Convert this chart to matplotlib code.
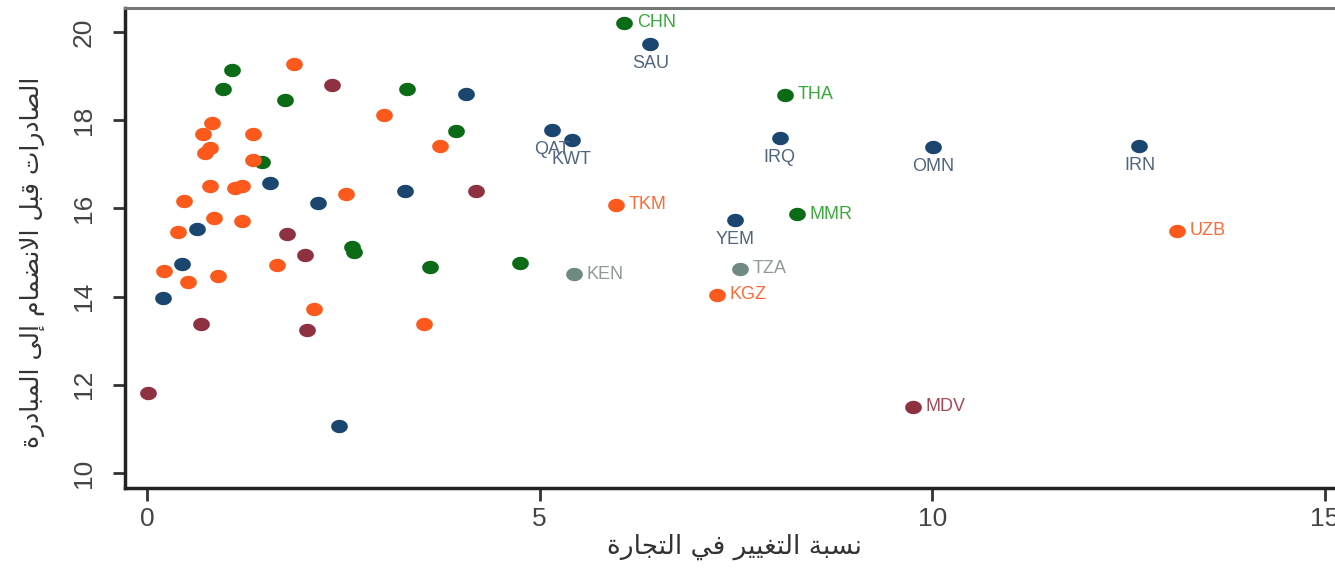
"""Scatter of pre-accession exports vs. trade change, with Arabic axis titles."""
import matplotlib
matplotlib.use("Agg")
import matplotlib.pyplot as plt
import numpy as np
from matplotlib.path import Path

# --- data ---------------------------------------------------------------
trade_change = [
    6.41, 5.16, 5.41, 8.06, 10.01, 12.64, 7.49,
    1.57, 2.18, 0.64, 0.45, 0.20, 2.45, 4.06, 3.29,
    6.08, 8.13, 8.28,
    1.08, 0.97, 1.76, 1.46, 3.31, 3.94, 2.61, 2.64, 3.61, 4.75,
    9.75,
    1.78, 2.01, 0.69, 2.04, 0.01, 2.36, 4.19,
    5.44, 7.55,
    5.97, 13.12, 7.26,
    1.87, 0.83, 0.71, 1.35, 0.80, 0.74, 1.35, 0.80, 1.12, 1.21, 0.47, 0.85,
    1.21, 0.39, 0.22, 0.52, 0.90, 1.66, 2.13, 3.02, 3.73, 2.54, 3.53,
]
pre_exports = [
    19.73, 17.78, 17.55, 17.60, 17.39, 17.41, 15.74,
    16.58, 16.12, 15.53, 14.74, 13.97, 11.07, 18.59, 16.40,
    20.20, 18.57, 15.87,
    19.14, 18.71, 18.46, 17.05, 18.71, 17.76, 15.12, 15.01, 14.67, 14.76,
    11.50,
    15.42, 14.94, 13.38, 13.24, 11.81, 18.80, 16.40,
    14.51, 14.63,
    16.08, 15.49, 14.04,
    19.27, 17.94, 17.69, 17.69, 17.37, 17.26, 17.10, 16.50, 16.46, 16.51, 16.17, 15.78,
    15.71, 15.46, 14.58, 14.33, 14.47, 14.72, 13.72, 18.12, 17.41, 16.33, 13.38,
]
group = (["navy"] * 15 + ["green"] * 13 + ["maroon"] * 8 + ["gray"] * 2
         + ["orange"] * 26)
iso = (["SAU", "QAT", "KWT", "IRQ", "OMN", "IRN", "YEM"] + [""] * 8
       + ["CHN", "THA", "MMR"] + [""] * 10
       + ["MDV"] + [""] * 7
       + ["KEN", "TZA"]
       + ["TKM", "UZB", "KGZ"] + [""] * 23)
label_below = {"SAU", "QAT", "KWT", "IRQ", "OMN", "IRN", "YEM"}

x_ticks = [0, 5, 10, 15]
y_ticks = [10, 12, 14, 16, 18, 20]
x_title = "نسبة التغيير في التجارة"
y_title = "الصادرات قبل الانضمام إلى المبادرة"

marker_colors = {"navy": "#1a4670", "green": "#0b6b16", "maroon": "#8e3140",
                 "gray": "#6f8a82", "orange": "#fb5a1c"}
text_colors = {"navy": "#4f6580", "green": "#3aaa3a", "maroon": "#a24a58",
               "gray": "#8e9a96", "orange": "#ff6a36"}
draw_order = ["green", "maroon", "navy", "gray", "orange"]


# --- minimal Arabic shaping (presentation forms + visual order) ----------
FORMS = {  # isolated, final, initial, medial
    "ا": ("\uFE8D", "\uFE8E", None, None),
    "إ": ("\uFE87", "\uFE88", None, None),
    "ب": ("\uFE8F", "\uFE90", "\uFE91", "\uFE92"),
    "ة": ("\uFE93", "\uFE94", None, None),
    "ت": ("\uFE95", "\uFE96", "\uFE97", "\uFE98"),
    "ج": ("\uFE9D", "\uFE9E", "\uFE9F", "\uFEA0"),
    "د": ("\uFEA9", "\uFEAA", None, None),
    "ر": ("\uFEAD", "\uFEAE", None, None),
    "س": ("\uFEB1", "\uFEB2", "\uFEB3", "\uFEB4"),
    "ص": ("\uFEB9", "\uFEBA", "\uFEBB", "\uFEBC"),
    "ض": ("\uFEBD", "\uFEBE", "\uFEBF", "\uFEC0"),
    "غ": ("\uFECD", "\uFECE", "\uFECF", "\uFED0"),
    "ف": ("\uFED1", "\uFED2", "\uFED3", "\uFED4"),
    "ق": ("\uFED5", "\uFED6", "\uFED7", "\uFED8"),
    "ل": ("\uFEDD", "\uFEDE", "\uFEDF", "\uFEE0"),
    "م": ("\uFEE1", "\uFEE2", "\uFEE3", "\uFEE4"),
    "ن": ("\uFEE5", "\uFEE6", "\uFEE7", "\uFEE8"),
    "ى": ("\uFEEF", "\uFEF0", None, None),
    "ي": ("\uFEF1", "\uFEF2", "\uFEF3", "\uFEF4"),
}
LAM_ALEF = {"ا": ("\uFEFB", "\uFEFC"), "إ": ("\uFEF9", "\uFEFA")}


def shape_arabic(text):
    out = []
    for word in text.split(" "):
        chars = list(word)
        glyphs = []
        i = 0
        prev_joins = False
        while i < len(chars):
            c = chars[i]
            if c == "ل" and i + 1 < len(chars) and chars[i + 1] in LAM_ALEF:
                iso_f, fin_f = LAM_ALEF[chars[i + 1]]
                glyphs.append(fin_f if prev_joins else iso_f)
                prev_joins = False
                i += 2
                continue
            iso_f, fin_f, ini_f, med_f = FORMS[c]
            next_exists = i + 1 < len(chars)
            joins_next = ini_f is not None and next_exists
            if prev_joins and joins_next:
                glyphs.append(med_f)
            elif prev_joins:
                glyphs.append(fin_f)
            elif joins_next:
                glyphs.append(ini_f)
            else:
                glyphs.append(iso_f)
            prev_joins = joins_next
            i += 1
        out.append("".join(glyphs))
    return " ".join(out)[::-1]


# slightly wide dots, as in the source image
t = np.linspace(0, 2 * np.pi, 40)
dot = Path(np.column_stack([np.cos(t), 0.8 * np.sin(t)]), closed=True)

fig = plt.figure(figsize=(13.35, 5.71), dpi=100)
ax = fig.add_axes([0.0936, 0.1454, 0.9064, 0.8406])

x = np.array(trade_change)
y = np.array(pre_exports)
g = np.array(group)
for name in draw_order:
    m = g == name
    ax.scatter(x[m], y[m], s=145, marker=dot, color=marker_colors[name],
               linewidths=0, zorder=3)

for xi, yi, gi, lab in zip(trade_change, pre_exports, group, iso):
    if not lab:
        continue
    if lab in label_below:
        ax.annotate(lab, (xi, yi), xytext=(0, -8), textcoords="offset points",
                    ha="center", va="top", fontsize=13,
                    family="Liberation Sans", color=text_colors[gi])
    else:
        ax.annotate(lab, (xi, yi), xytext=(9, 0), textcoords="offset points",
                    ha="left", va="center", fontsize=13,
                    family="Liberation Sans", color=text_colors[gi])

ax.set_xlim(-0.28, 15.13)
ax.set_ylim(9.66, 20.54)
ax.set_xticks(x_ticks)
ax.set_yticks(y_ticks)
ax.tick_params(axis="both", direction="out", length=9, width=2,
               color="#333333", labelsize=19, labelcolor="#444444")
ax.tick_params(axis="x", pad=5)
ax.tick_params(axis="y", pad=12)
for lbl in ax.get_xticklabels() + ax.get_yticklabels():
    lbl.set_family("Liberation Sans")
for lbl in ax.get_yticklabels():
    lbl.set_rotation(90)
    lbl.set_va("center")

ax.spines["right"].set_visible(False)
ax.spines["left"].set_linewidth(2.5)
ax.spines["bottom"].set_linewidth(2.5)
ax.spines["left"].set_color("#222222")
ax.spines["bottom"].set_color("#222222")
ax.spines["top"].set_linewidth(2.2)
ax.spines["top"].set_color("#777777")

ax.set_xlabel(shape_arabic(x_title), fontsize=19, family="DejaVu Sans",
              color="#333333")
ax.set_ylabel(shape_arabic(y_title), fontsize=18, family="DejaVu Sans",
              color="#333333")
ax.xaxis.set_label_coords(0.504, -0.095)
ax.yaxis.set_label_coords(-0.066, 0.47)

fig.savefig("out.png", dpi=100)
plt.close(fig)
